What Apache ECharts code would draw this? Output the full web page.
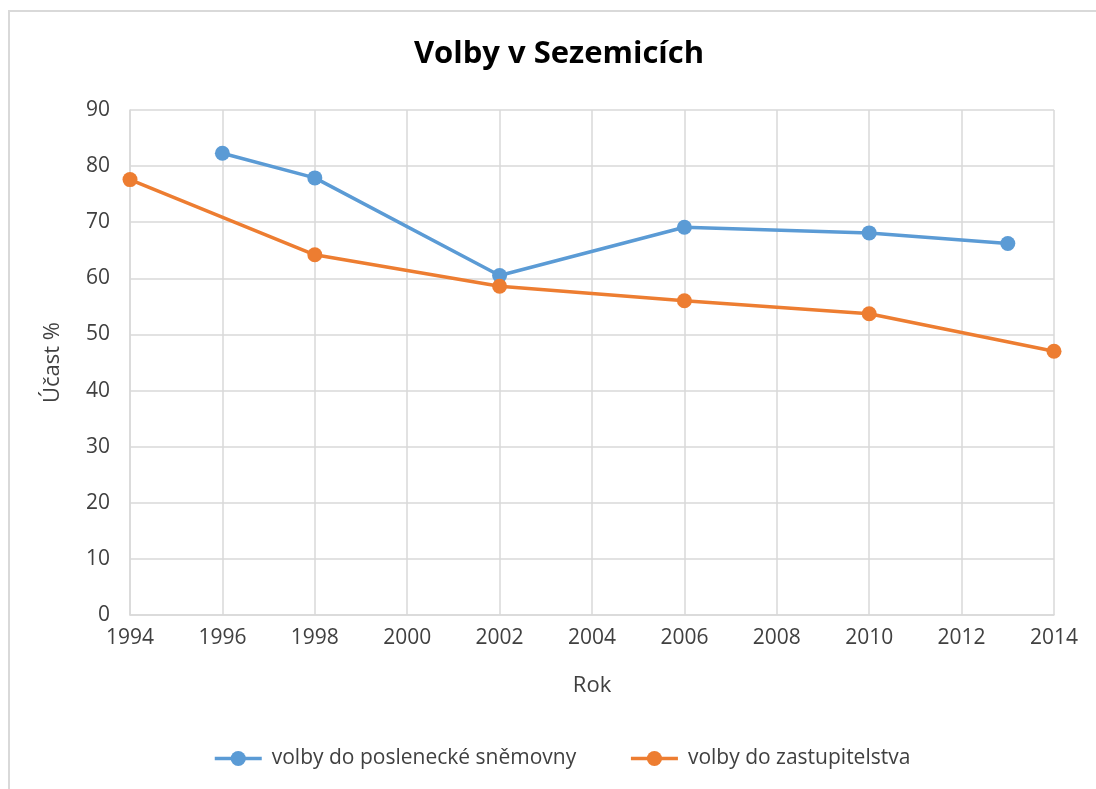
<!DOCTYPE html>
<html><head><meta charset="utf-8">
<script src="https://cdn.jsdelivr.net/npm/echarts@6/dist/echarts.min.js"></script>
<style>html,body{margin:0;padding:0;background:#fff}#c{width:1096px;height:789px}</style>
</head><body><div id="c"></div>
<script>
const title = 'Volby v Sezemicích';
const seriesNames = ['volby do poslenecké sněmovny', 'volby do zastupitelstva'];
const yearsSnemovna = [1996, 1998, 2002, 2006, 2010, 2013];
const valuesSnemovna = [82.3, 77.9, 60.5, 69.1, 68.1, 66.2];
const yearsZastup = [1994, 1998, 2002, 2006, 2010, 2014];
const valuesZastup = [77.6, 64.2, 58.6, 56.0, 53.7, 47.0];
const xAxisName = 'Rok';
const yAxisName = 'Účast %';

const font = 'Open Sans';
const textColor = '#404040';
const chart = echarts.init(document.getElementById('c'), null, {renderer: 'canvas'});
chart.setOption({
  animation: false,
  backgroundColor: '#fff',
  graphic: [{type: 'rect', shape: {x: 9, y: 11, width: 1200, height: 900}, style: {fill: 'none', stroke: '#D9D9D9', lineWidth: 2}, silent: true}],
  title: {text: title, left: 554, textAlign: 'center', top: 34, textStyle: {fontFamily: font, fontWeight: 'bold', fontSize: 31, color: '#000'}},
  grid: {left: 130, right: 42, top: 110, bottom: 174},
  legend: {top: 743, left: 208, itemWidth: 47, itemHeight: 19, itemGap: 53,
    lineStyle: {width: 3.5},
    textStyle: {fontFamily: font, fontSize: 21, color: textColor, padding: [0, 0, 0, 5]},
    data: seriesNames},
  xAxis: {type: 'value', min: 1994, max: 2014, interval: 2,
    name: xAxisName, nameLocation: 'middle', nameGap: 60,
    nameTextStyle: {fontFamily: font, fontSize: 22, color: textColor},
    axisLine: {show: true, lineStyle: {color: '#D9D9D9', width: 1.5}}, axisTick: {show: false},
    axisLabel: {fontFamily: font, fontSize: 21, color: textColor, margin: 13, formatter: v => String(v)},
    splitLine: {show: true, lineStyle: {color: '#D9D9D9', width: 1.5}}},
  yAxis: {type: 'value', min: 0, max: 90, interval: 10,
    name: yAxisName, nameLocation: 'middle', nameGap: 66,
    nameTextStyle: {fontFamily: font, fontSize: 22, color: textColor},
    axisLine: {show: true, lineStyle: {color: '#D9D9D9', width: 1.5}}, axisTick: {show: false},
    axisLabel: {fontFamily: font, fontSize: 21, color: textColor, margin: 20},
    splitLine: {show: true, lineStyle: {color: '#D9D9D9', width: 1.5}}},
  series: [
    {name: seriesNames[0], type: 'line', data: yearsSnemovna.map((y, i) => [y, valuesSnemovna[i]]),
      color: '#5B9BD5', symbol: 'circle', symbolSize: 15, lineStyle: {width: 3.5}},
    {name: seriesNames[1], type: 'line', data: yearsZastup.map((y, i) => [y, valuesZastup[i]]),
      color: '#ED7D31', symbol: 'circle', symbolSize: 15, lineStyle: {width: 3.5}}
  ]
});
</script></body></html>
